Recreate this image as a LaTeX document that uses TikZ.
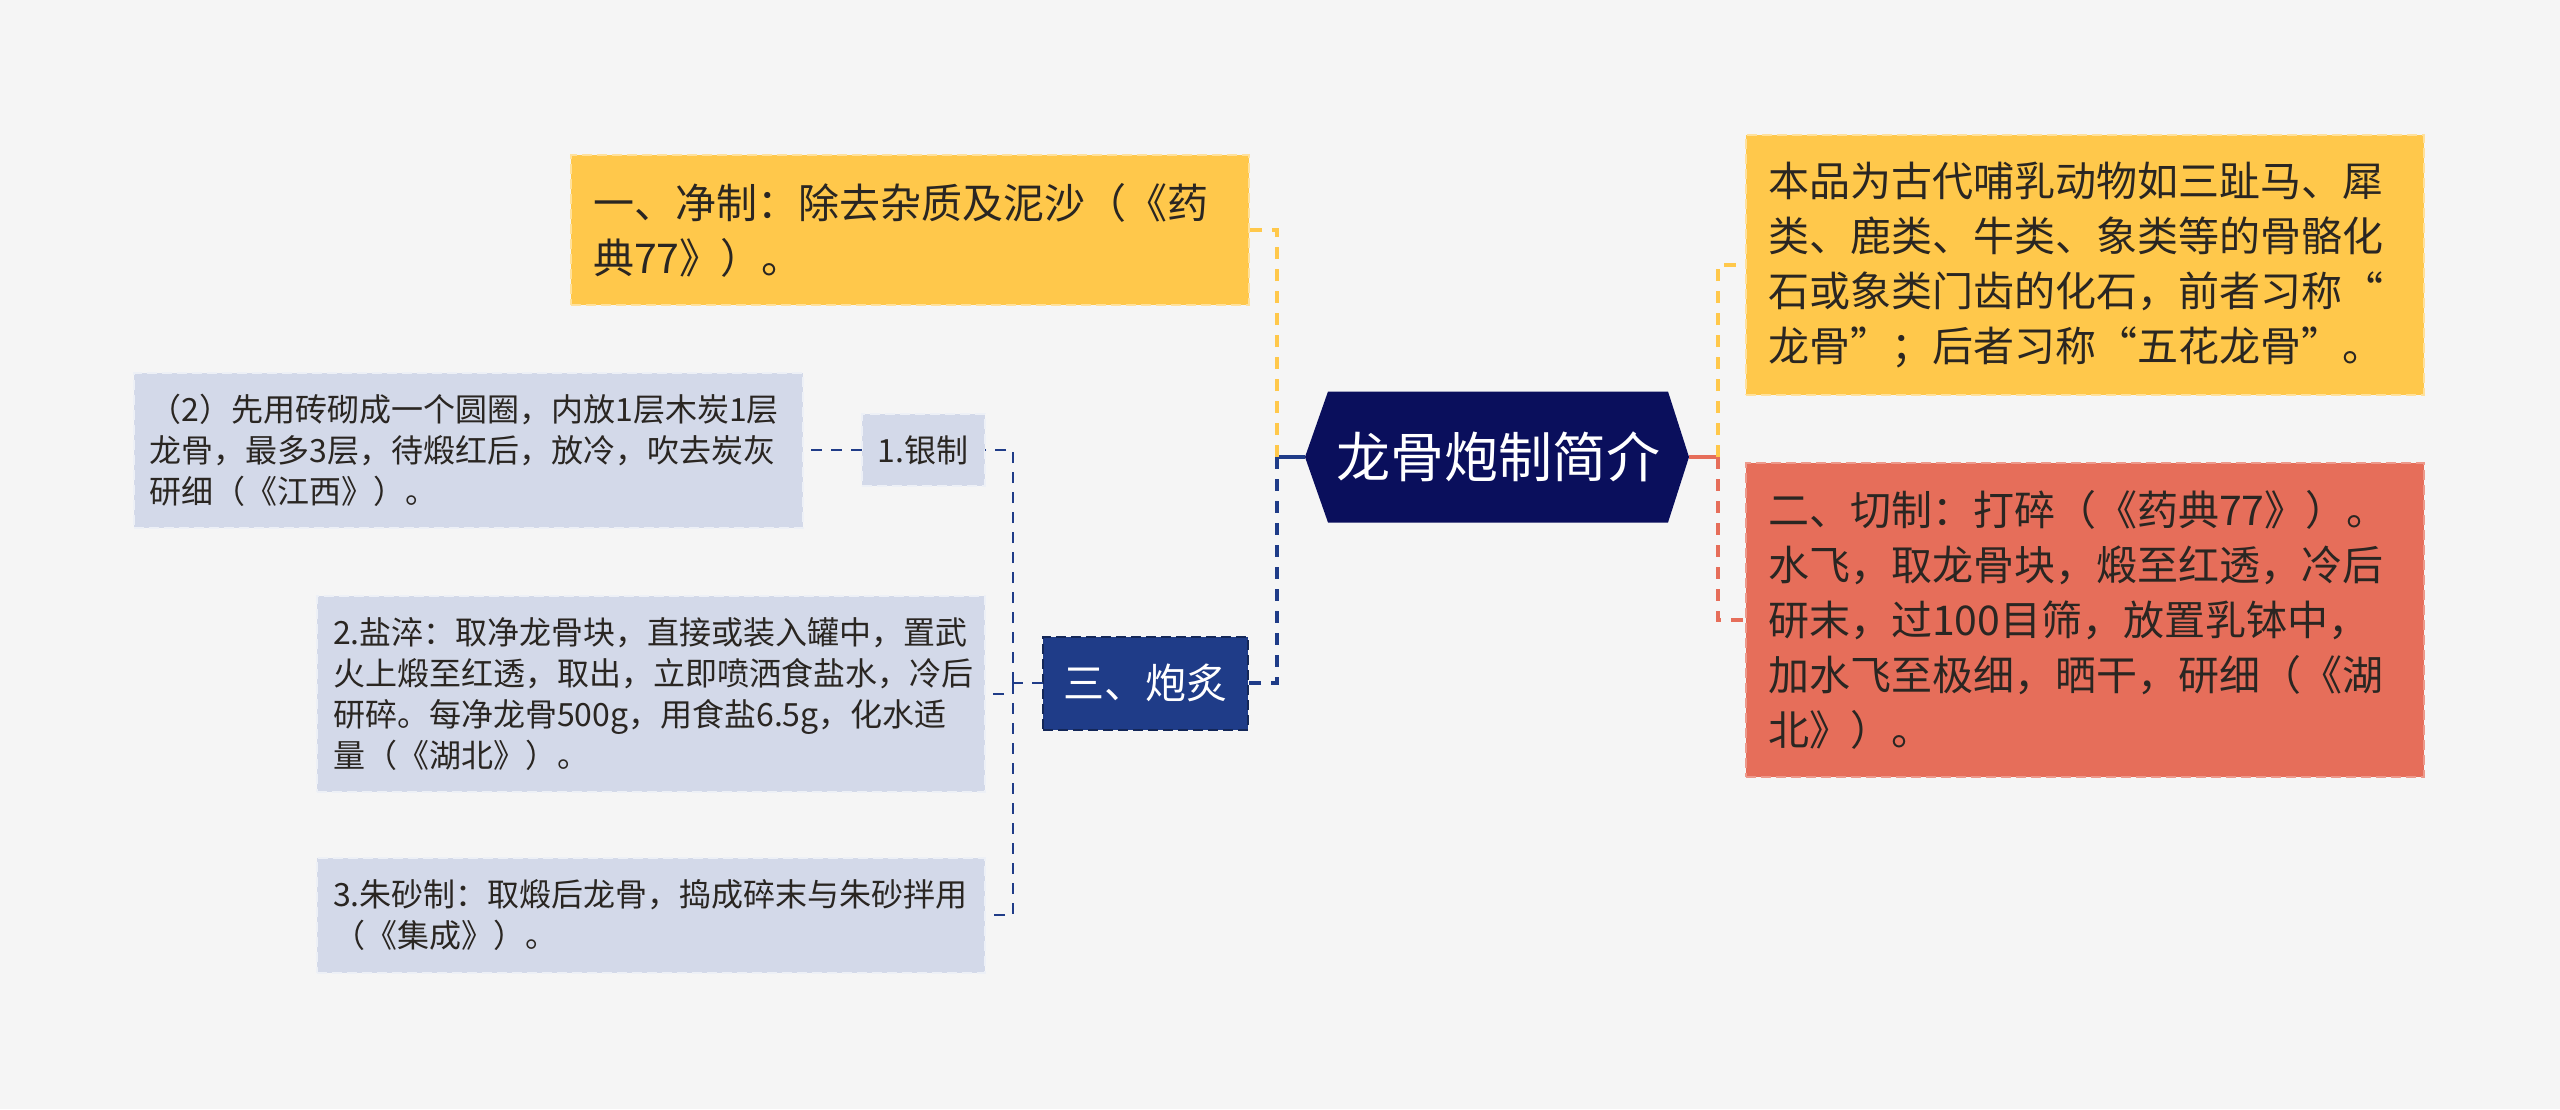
\documentclass[tikz,border=0pt]{standalone}
\usepackage{fontspec}
\setmainfont{Noto Sans CJK SC}
\pgfdeclarelayer{bg}
\pgfsetlayers{bg,main}
\definecolor{paper}{HTML}{F5F5F5}
\definecolor{rootfill}{HTML}{0A0F5C}
\definecolor{yfill}{HTML}{FFC84B}
\definecolor{rfill}{HTML}{E66E5A}
\definecolor{nfill}{HTML}{1F3C88}
\definecolor{lfill}{HTML}{D3D9E9}
\definecolor{ink}{HTML}{2A2622}

\begin{document}
\begin{tikzpicture}[x=1pt, y=-1pt,
					every node/.style={inner sep=0pt, outer sep=0pt},
					big/.style={font=\fontsize{41}{55}\selectfont},
					small/.style={font=\fontsize{32}{41}\selectfont},
					box/.style={dashed, line width=2pt, dash pattern=on 10pt off 5pt, align=left, text=ink},
					ybox/.style={box, big, fill=yfill, draw=yfill!55!white, inner xsep=22pt},
					rbox/.style={box, big, fill=rfill, draw=rfill!70!white, inner xsep=22pt},
					lbox/.style={box, small, fill=lfill, draw=lfill!40!white, inner xsep=16pt},
					nbox/.style={box, big, fill=nfill, draw=nfill!65!black, align=center, text=white},
					link/.style={line width=4pt, dash pattern=on 12pt off 10pt},
					sublink/.style={draw=nfill, line width=2.4pt, dash pattern=on 11pt off 9pt}]
\useasboundingbox (0,0) rectangle (2560,1109);

\node[text=white, font=\fontsize{54}{60}\selectfont, minimum width=340, minimum height=131] (root) at (1498,457) {龙骨炮制简介};
\coordinate (tipL) at ([xshift=-23pt]root.west);
\coordinate (tipR) at ([xshift=21pt]root.east);
\begin{pgfonlayer}{bg}
\fill[paper] (0,0) rectangle (2560,1109);
\fill[rootfill] (root.north west) -- (root.north east) -- (tipR) -- (root.south east) -- (root.south west) -- (tipL) -- cycle;
\end{pgfonlayer}

\node[ybox, minimum width=678, minimum height=150, text width=634] (jingzhi) at (910,230)
	{一、净制：除去杂质及泥沙（《药\\典77》）。};
\node[ybox, minimum width=678, minimum height=260, text width=634] (intro) at (2085,265)
	{本品为古代哺乳动物如三趾马、犀\\类、鹿类、牛类、象类等的骨骼化\\石或象类门齿的化石，前者习称“\\龙骨”；后者习称“五花龙骨”。};
\node[rbox, minimum width=678, minimum height=314, text width=634] (qiezhi) at (2085,620)
	{二、切制：打碎（《药典77》）。\\水飞，取龙骨块，煅至红透，冷后\\研末，过100目筛，放置乳钵中，\\加水飞至极细，晒干，研细（《湖\\北》）。};
\node[nbox, minimum width=205, minimum height=93] (paozhi) at (1145,683) {三、炮炙};
\node[lbox, align=center, minimum width=123, minimum height=72] (yinzhi) at (923,450) {1.银制};
\node[lbox, minimum width=669, minimum height=155, text width=637] (yinfa) at (468,450)
	{（2）先用砖砌成一个圆圈，内放1层木炭1层\\龙骨，最多3层，待煅红后，放冷，吹去炭灰\\研细（《江西》）。};
\node[lbox, minimum width=668, minimum height=196, text width=636] (yancui) at (651,694)
	{2.盐淬：取净龙骨块，直接或装入罐中，置武\\火上煅至红透，取出，立即喷洒食盐水，冷后\\研碎。每净龙骨500g，用食盐6.5g，化水适\\量（《湖北》）。};
\node[lbox, minimum width=668, minimum height=115, text width=636] (zhusha) at (651,915)
	{3.朱砂制：取煅后龙骨，捣成碎末与朱砂拌用\\（《集成》）。};

\coordinate (lj) at (1277,457);
\coordinate (rj) at (1718,457);
\coordinate (sj) at (1013,683);

\draw[nfill, line width=3.5pt] (tipL) -- (lj);
\draw[link, yfill] (lj) |- (jingzhi.east);
\draw[link, nfill] (lj) |- (paozhi.east);
\draw[rfill, line width=3.5pt] (tipR) -- (rj);
\draw[link, yfill] (rj) |- (intro.west);
\draw[link, rfill] (rj) |- (qiezhi.west);
\draw[sublink] (paozhi.west) -- (sj);
\draw[sublink] (sj) |- (yinzhi.east);
\draw[sublink] (sj) |- (yancui.east);
\draw[sublink] (sj) |- (zhusha.east);
\draw[sublink] (yinzhi.west) -- (yinfa.east);
\end{tikzpicture}
\end{document}
